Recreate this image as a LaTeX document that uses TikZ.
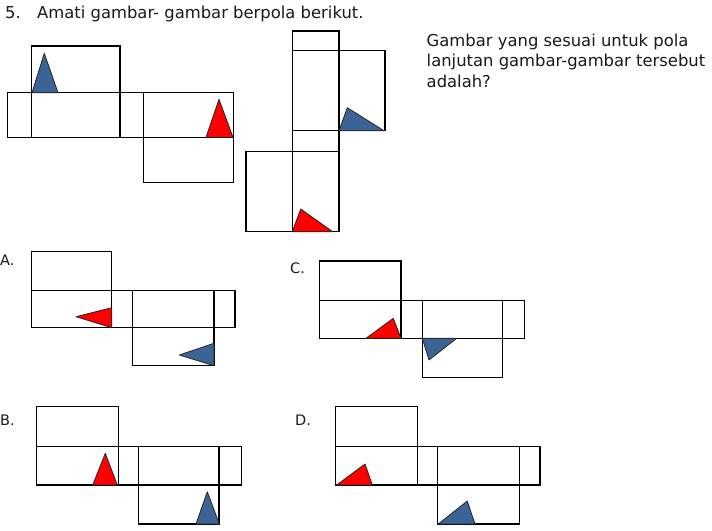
\documentclass[tikz,border=0pt]{standalone}
\usepackage{fontspec}
\setmainfont{DejaVu Sans}
\definecolor{tblue}{HTML}{3B6494}
\definecolor{tred}{HTML}{FF0000}
\definecolor{txt}{HTML}{1A1A1A}
\begin{document}
\begin{tikzpicture}[x=1pt,y=-1pt,
  box/.style={draw=black,line width=1.25pt},
  tri/.style={draw=black!85,line width=0.8pt,line join=round},
  blu/.style={tri,fill=tblue},
  rd/.style={tri,fill=tred},
  lbl/.style={anchor=base west,inner sep=0pt,text=txt,font=\fontsize{16.4}{19}\selectfont}]
\useasboundingbox (0,0) rectangle (712,530);
\fill[white] (0,0) rectangle (712,530);
% title
\node[lbl] (n5) at (5,18.3) {5.};
\node[lbl] (title) at (37,18.3) {Amati gambar- gambar berpola berikut.};
\node[lbl] (q1) at (426.5,46) {Gambar yang sesuai untuk pola};
\node[lbl] (q2) at (426.5,66.5) {lanjutan gambar-gambar tersebut};
\node[lbl] (q3) at (426.5,87) {adalah?};
% figure 1
\draw[box] (31.7,46) rectangle (120,92.7);
\draw[box] (7.7,92.7) rectangle (233.3,137.3);
\draw[box] (31.7,92.7) -- (31.7,137.3) (120,92.7) -- (120,137.3) (143.3,92.7) -- (143.3,137.3);
\draw[box] (143.3,137.3) rectangle (233.3,182.7);
\draw[blu] (32,92.7) -- (58,92.7) -- (44.3,53.3) -- cycle;
\draw[rd] (206,137.3) -- (233,137.3) -- (219,99.3) -- cycle;
% figure 2
\draw[box] (292.3,31) rectangle (339,231.7);
\draw[box] (292.3,50.7) -- (385,50.7) -- (385,130.7) -- (292.3,130.7);
\draw[box] (246,151.7) rectangle (339,231.7);
\draw[blu] (339,130.7) -- (384,130.7) -- (347.3,107.7) -- cycle;
\draw[rd] (292.3,231.7) -- (332.7,231.7) -- (300.7,209) -- cycle;
% option A
\node[lbl,font=\fontsize{14.5}{17}\selectfont] (la) at (0,265) {A.};
\draw[box] (31.7,251.7) rectangle (111.7,290.7);
\draw[box] (31.7,290.7) rectangle (235,327.7);
\draw[box] (111.7,290.7) -- (111.7,327.7) (214,290.7) -- (214,327.7);
\draw[box] (132.7,290.7) rectangle (214,365.7);
\draw[rd] (111.7,307.7) -- (111.7,327.7) -- (76,316.7) -- cycle;
\draw[blu] (214,343.3) -- (214,365.7) -- (179.3,355) -- cycle;
% option C
\node[lbl,font=\fontsize{14.5}{17}\selectfont] (lc) at (290,273) {C.};
\draw[box] (319.3,261) rectangle (401,300.7);
\draw[box] (319.3,300.7) rectangle (524.3,338.3);
\draw[box] (401,300.7) -- (401,338.3) (502.3,300.7) -- (502.3,338.3);
\draw[box] (422.3,300.7) rectangle (502.3,377.3);
\draw[rd] (366,338.3) -- (401,338.3) -- (393.3,318.3) -- cycle;
\draw[blu] (422.3,338.3) -- (456.7,338.3) -- (429,360) -- cycle;
% option B
\node[lbl,font=\fontsize{14.5}{17}\selectfont] (lb) at (0,425) {B.};
\draw[box] (36.7,406.7) rectangle (118.3,446.7);
\draw[box] (36.7,446.7) rectangle (241.7,485);
\draw[box] (118.3,446.7) -- (118.3,485) (219,446.7) -- (219,485);
\draw[box] (138.7,446.7) rectangle (219,524);
\draw[rd] (92.7,485) -- (117.3,485) -- (105.3,453.3) -- cycle;
\draw[blu] (196,524) -- (219.3,524) -- (207.3,491.7) -- cycle;
% option D
\node[lbl,font=\fontsize{14.5}{17}\selectfont] (ld) at (295,425) {D.};
\draw[box] (335.7,406.7) rectangle (417.3,446.7);
\draw[box] (335.7,446.7) rectangle (540,485);
\draw[box] (417.3,446.7) -- (417.3,485) (519.3,446.7) -- (519.3,485);
\draw[box] (437.7,446.7) rectangle (519.3,524);
\draw[rd] (336.7,485) -- (372.3,485) -- (365,464) -- cycle;
\draw[blu] (438.3,524) -- (475,524) -- (467.3,501) -- cycle;
\end{tikzpicture}
\end{document}
